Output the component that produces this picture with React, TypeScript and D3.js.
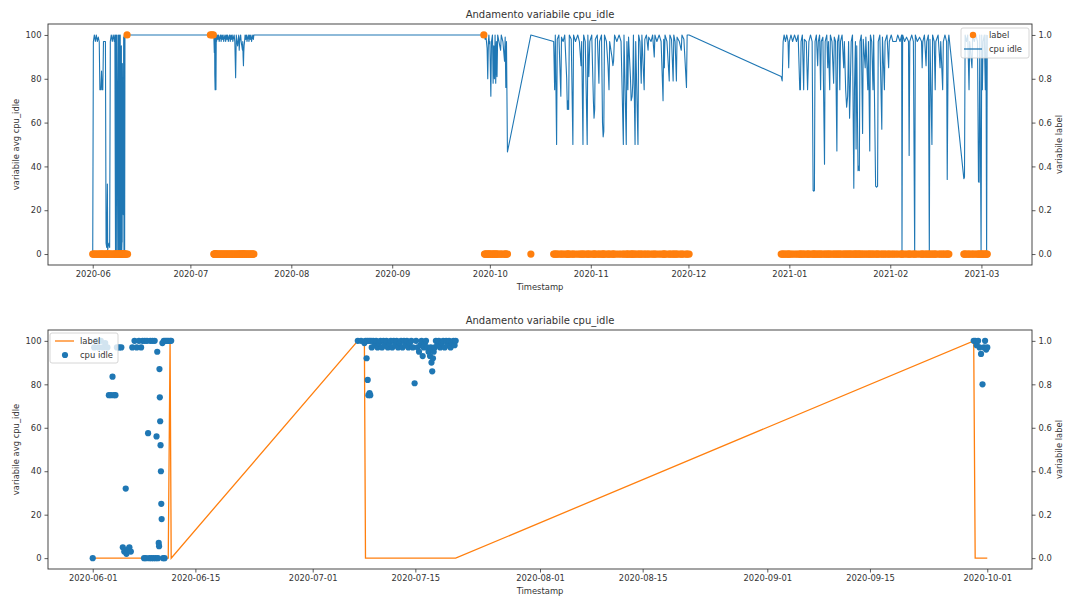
import { useEffect, useRef } from "react";
import * as d3 from "d3";

const T0 = Date.UTC(2020, 5, 1);

// cpu_idle samples: [days since 2020-06-01, variabile avg cpu_idle]
const cpuJun: [number, number][] = [
  [0, 0], [0.2, 97], [0.5, 100], [0.8, 97], [1.1, 100], [1.4, 97], [1.7, 99], [2.0, 97],
  [2.2, 75], [2.5, 75], [2.7, 83.5], [2.9, 75], [3.1, 75], [3.3, 97], [3.6, 97], [3.9, 97],
  [4.1, 5], [4.3, 3], [4.5, 32], [4.6, 2], [4.8, 4], [5.0, 5], [5.2, 3], [5.4, 97],
  [5.7, 100], [6.0, 97], [6.3, 100], [6.6, 97], [6.8, 100], [7.0, 0], [7.1, 100], [7.25, 0],
  [7.4, 100], [7.55, 57.5], [7.7, 0], [7.85, 100], [8.0, 0], [8.15, 100], [8.3, 0], [8.45, 100],
  [8.6, 0], [8.7, 56], [8.8, 95], [8.9, 0], [9.0, 7], [9.05, 5.5], [9.1, 87], [9.15, 74],
  [9.2, 63], [9.25, 52], [9.3, 40], [9.35, 25], [9.4, 18], [9.5, 99], [9.6, 0], [9.7, 100],
  [9.8, 0], [9.9, 100], [10.1, 100], [10.3, 100], [10.55, 100], [10.7, 100],
];

const cpuJul: [number, number][] = [
  [36.15, 100], [36.6, 100], [37.05, 99], [37.2, 100], [37.35, 92], [37.45, 100], [37.5, 82],
  [37.6, 75], [37.7, 100], [37.75, 76], [37.85, 75], [37.95, 100], [38.05, 97], [38.25, 100],
  [38.45, 98], [38.65, 100], [38.85, 97], [39.05, 99], [39.25, 100], [39.45, 97], [39.65, 100],
  [39.85, 98], [40.05, 100], [40.25, 97], [40.45, 99], [40.65, 100], [40.85, 97], [41.05, 100],
  [41.25, 98], [41.45, 100], [41.65, 97], [41.85, 99], [42.05, 100], [42.25, 97], [42.45, 100],
  [42.65, 98], [42.85, 100], [43.05, 97], [43.25, 99], [43.45, 100], [43.65, 97], [43.9, 80.5],
  [44.1, 100], [44.3, 97], [44.5, 95], [44.7, 98], [44.85, 100], [45.0, 93], [45.15, 97],
  [45.3, 99], [45.45, 100], [45.6, 97], [45.8, 95], [46.0, 93], [46.1, 97], [46.2, 90],
  [46.3, 86], [46.4, 92], [46.5, 95], [46.65, 97], [46.8, 100], [47.0, 98], [47.2, 100],
  [47.4, 97], [47.6, 99], [47.8, 100], [48.0, 97], [48.2, 100], [48.4, 98], [48.6, 100],
  [48.8, 97], [49.0, 99], [49.2, 100], [49.35, 98], [49.5, 100],
];

const cpuSep: [number, number][] = [
  [120.15, 100], [120.35, 100], [120.55, 98], [120.75, 100], [120.95, 97], [121.15, 94],
  [121.35, 80], [121.55, 97], [121.7, 100], [121.85, 96], [122.0, 97], [122.3, 72],
  [122.5, 97], [122.8, 100], [123.0, 78], [123.2, 95], [123.4, 80], [123.6, 100], [123.8, 78],
  [124.0, 97], [124.2, 81], [124.4, 100], [124.8, 97], [125.3, 93], [125.5, 100], [126.0, 97],
  [126.5, 88], [126.7, 99], [126.9, 76], [127.1, 97], [127.4, 46.6], [134.6, 100],
];

const cpuNov: [number, number][] = [
  [141.6, 97], [141.9, 75], [142.1, 100], [142.5, 50], [142.7, 98], [143.2, 100], [143.8, 72],
  [144.0, 99], [144.5, 97], [145.0, 100], [145.6, 80], [145.8, 66], [146.0, 70], [146.2, 66],
  [146.4, 100], [147.0, 98], [147.5, 50], [147.7, 100], [148.3, 97], [149.0, 100], [149.5, 97],
  [150.0, 86], [150.2, 97], [150.6, 50], [150.8, 100], [151.3, 97], [151.9, 50], [152.1, 100],
  [152.4, 81], [152.7, 97], [153.3, 100], [153.8, 70], [154.0, 62], [154.2, 66], [154.4, 98],
  [155.0, 100], [155.5, 78], [155.7, 97], [156.3, 100], [156.6, 60], [156.8, 53.5], [157.0, 56],
  [157.2, 100], [157.8, 97], [158.3, 86], [158.6, 75], [158.8, 97], [159.5, 90], [159.8, 86],
  [160.0, 88], [160.3, 100], [161.0, 97], [161.7, 100], [162.3, 97], [163.0, 50], [163.2, 100],
  [163.9, 50], [164.1, 97], [164.4, 75], [164.6, 99], [165.2, 80], [165.4, 70], [165.7, 72],
  [165.9, 78], [166.1, 100], [166.6, 50], [166.8, 97], [167.5, 50], [167.7, 100], [168.1, 97],
  [168.5, 78], [168.7, 100], [169.4, 75], [169.6, 98], [170.1, 100], [170.6, 93], [170.8, 99],
  [171.5, 97], [172.0, 100], [172.5, 90], [172.7, 100], [173.3, 97], [174.0, 100], [174.6, 97],
  [175.2, 70], [175.4, 98], [175.6, 85], [175.8, 100], [176.4, 97], [177.1, 79], [177.3, 100],
  [177.8, 98], [178.3, 79], [178.5, 100], [178.9, 97], [179.3, 79], [179.5, 99], [180.2, 97],
  [180.8, 93], [181.0, 100], [181.6, 98], [182.4, 76], [182.6, 100], [183.2, 100],
];

const cpuJan: [number, number][] = [
  [211.5, 81], [211.8, 79], [212.1, 97], [212.4, 100], [212.8, 97], [213.2, 100], [213.6, 97],
  [213.8, 85], [214.0, 97], [214.5, 100], [215.0, 97], [215.6, 100], [216.2, 97], [216.7, 100],
  [217.2, 75], [217.4, 75], [217.6, 97], [218.0, 100], [218.4, 75], [218.6, 98], [219.2, 97],
  [219.6, 75], [219.8, 85], [220.0, 97], [220.5, 100], [221.0, 97], [221.3, 29], [221.5, 28.7],
  [221.7, 29], [221.9, 97], [222.3, 100], [222.7, 86], [222.9, 97], [223.3, 100], [223.6, 75],
  [223.8, 97], [224.3, 99], [224.8, 41], [225.0, 97], [225.5, 100], [225.8, 85], [226.0, 97],
  [226.4, 75], [226.6, 100], [227.1, 97], [227.6, 78], [227.8, 99], [228.2, 97], [228.6, 47],
  [228.8, 97], [229.2, 100], [229.5, 75], [229.7, 97], [230.2, 100], [230.7, 85], [230.9, 97],
  [231.3, 75], [231.6, 67], [231.9, 72], [232.2, 97], [232.5, 62], [232.7, 75], [233.0, 97],
  [233.4, 100], [233.8, 30], [234.0, 75], [234.3, 97], [234.5, 48], [234.7, 95], [235.1, 38],
  [235.3, 40], [235.5, 38], [235.7, 97], [236.1, 100], [236.5, 55], [236.7, 98], [237.3, 85],
  [237.5, 99], [238.1, 75], [238.3, 97], [238.7, 47], [238.9, 100], [239.3, 97], [239.7, 75],
  [239.9, 100], [240.5, 31], [240.8, 30.5], [241.1, 31], [241.3, 97], [241.8, 100], [242.4, 57],
  [242.6, 99], [243.2, 75], [243.4, 97], [244.0, 100], [244.5, 85], [244.7, 97], [245.3, 100],
  [245.8, 97], [246.2, 97], [246.8, 97], [247.3, 100], [248.0, 97],
];

const cpuFeb: [number, number][] = [
  [248.5, 100], [248.6, 0], [248.8, 100], [249.4, 97], [250.0, 99], [250.6, 97], [250.8, 45],
  [251.0, 97], [251.6, 100], [252.1, 97], [252.5, 0], [252.7, 100], [253.3, 97], [254.0, 99],
  [254.6, 97], [254.8, 85], [255.0, 97], [255.5, 100], [256.0, 86], [256.2, 97], [256.7, 100],
  [257.0, 0], [257.2, 98], [257.8, 50], [258.0, 100], [258.5, 97], [258.8, 75], [259.0, 97],
  [259.7, 100], [260.3, 85], [260.5, 97], [261.1, 75], [261.3, 97], [261.8, 100], [262.3, 97],
  [262.5, 34], [262.8, 97], [263.0, 100], [267.6, 34.4], [267.8, 35], [268.0, 100],
  [268.4, 97], [268.8, 100], [269.2, 75], [269.4, 97], [270.1, 85], [270.3, 100], [270.8, 97],
  [271.3, 100], [271.8, 97], [272.1, 33], [272.3, 32.8], [272.5, 100], [272.9, 0], [273.1, 100],
  [273.3, 75], [273.5, 97], [273.9, 100], [274.2, 75], [274.4, 100], [274.6, 0], [274.8, 100],
];

// days (since 2020-06-01) whose label is 1; every other sample has label 0
const labelOneDays = [10.55, 36.15, 36.6, 37.05, 120.15];

// the lower panel only keeps samples up to 2020-10-01
const lowerEndDay = 122;

const upperTicks = ["2020-06", "2020-07", "2020-08", "2020-09", "2020-10", "2020-11", "2020-12", "2021-01", "2021-02", "2021-03"];
const lowerTicks = ["2020-06-01", "2020-06-15", "2020-07-01", "2020-07-15", "2020-08-01", "2020-08-15", "2020-09-01", "2020-09-15", "2020-10-01"];
const leftTicks = [0, 20, 40, 60, 80, 100];
const rightTicks = [0, 0.2, 0.4, 0.6, 0.8, 1.0];

const BLUE = "#1f77b4";
const ORANGE = "#ff7f0e";
const INK = "#333";
const FONT = "DejaVu Sans, sans-serif";

interface Sample {
  date: Date;
  cpu: number;
  label: number;
}

const samples: Sample[] = [...cpuJun, ...cpuJul, ...cpuSep, ...cpuNov, ...cpuJan, ...cpuFeb].map(
  ([d, v]) => ({
    date: new Date(T0 + d * 864e5),
    cpu: v,
    label: labelOneDays.includes(d) ? 1 : 0,
  })
);

const W = 1067;
const H = 597;

function drawPanel(
  svg: d3.Selection<SVGSVGElement, unknown, null, undefined>,
  data: Sample[],
  top: number,
  bottom: number,
  ticks: Date[],
  fmt: (d: Date) => string,
  mode: "upper" | "lower"
) {
  const left = 48;
  const right = 1032;
  const [d0, d1] = d3.extent(data, (d) => d.date) as [Date, Date];
  const pad = (+d1 - +d0) * 0.05;
  const x = d3.scaleUtc().domain([new Date(+d0 - pad), new Date(+d1 + pad)]).range([left, right]);
  const yL = d3.scaleLinear().domain([-5, 105]).range([bottom, top]);
  const yR = d3.scaleLinear().domain([-0.05, 1.05]).range([bottom, top]);

  const g = svg.append("g");

  const cpuLine = d3
    .line<Sample>()
    .x((d) => x(d.date))
    .y((d) => yL(d.cpu));
  const labelLine = d3
    .line<Sample>()
    .x((d) => x(d.date))
    .y((d) => yR(d.label));

  if (mode === "upper") {
    g.append("path")
      .attr("d", cpuLine(data))
      .attr("fill", "none")
      .attr("stroke", BLUE)
      .attr("stroke-width", 1.1)
      .attr("stroke-linejoin", "round");
    g.selectAll(".lab")
      .data(data)
      .enter()
      .append("circle")
      .attr("cx", (d) => x(d.date))
      .attr("cy", (d) => yR(d.label))
      .attr("r", 3.6)
      .attr("fill", ORANGE);
  } else {
    g.append("path")
      .attr("d", labelLine(data))
      .attr("fill", "none")
      .attr("stroke", ORANGE)
      .attr("stroke-width", 1.3);
    g.selectAll(".cpu")
      .data(data)
      .enter()
      .append("circle")
      .attr("cx", (d) => x(d.date))
      .attr("cy", (d) => yL(d.cpu))
      .attr("r", 3.1)
      .attr("fill", BLUE);
  }

  // axes
  const styleAxis = (a: d3.Selection<SVGGElement, unknown, null, undefined>) => {
    a.select(".domain").remove();
    a.selectAll(".tick line").attr("stroke", INK).attr("stroke-width", 0.8);
    a.selectAll(".tick text").attr("fill", INK).attr("font-size", 8.4).attr("font-family", FONT);
  };

  g.append("g")
    .attr("transform", `translate(0,${bottom})`)
    .call(d3.axisBottom(x).tickValues(ticks).tickFormat((d) => fmt(d as Date)).tickSize(3.5).tickPadding(3))
    .call(styleAxis);
  g.append("g")
    .attr("transform", `translate(${left},0)`)
    .call(d3.axisLeft(yL).tickValues(leftTicks).tickFormat(d3.format("d")).tickSize(3.5).tickPadding(3))
    .call(styleAxis);
  g.append("g")
    .attr("transform", `translate(${right},0)`)
    .call(d3.axisRight(yR).tickValues(rightTicks).tickFormat(d3.format(".1f")).tickSize(3.5).tickPadding(3))
    .call(styleAxis);

  g.append("rect")
    .attr("x", left)
    .attr("y", top)
    .attr("width", right - left)
    .attr("height", bottom - top)
    .attr("fill", "none")
    .attr("stroke", INK)
    .attr("stroke-width", 0.9);

  // titles
  const text = (tx: number, ty: number, s: string, size: number, rot = 0) =>
    g.append("text")
      .attr("transform", `translate(${tx},${ty}) rotate(${rot})`)
      .attr("text-anchor", "middle")
      .attr("font-family", FONT)
      .attr("font-size", size)
      .attr("fill", INK)
      .text(s);

  const mid = (left + right) / 2;
  text(mid, top - 6, "Andamento variabile cpu_idle", 10);
  text(mid, bottom + 25, "Timestamp", 8.4);
  text(19, (top + bottom) / 2, "variabile avg cpu_idle", 8.4, -90);
  text(1062, (top + bottom) / 2, "variabile label", 8.4, -90);

  // legend
  const lg = g.append("g");
  const legendText = (lx: number, ly: number, s: string) =>
    lg.append("text")
      .attr("x", lx)
      .attr("y", ly)
      .attr("font-family", FONT)
      .attr("font-size", 8.4)
      .attr("fill", INK)
      .attr("dominant-baseline", "central")
      .text(s);

  if (mode === "upper") {
    const bx = 961;
    const by = top + 4;
    lg.append("rect")
      .attr("x", bx).attr("y", by).attr("width", 68).attr("height", 30).attr("rx", 2)
      .attr("fill", "white").attr("fill-opacity", 0.8).attr("stroke", "#ccc").attr("stroke-width", 0.8);
    lg.append("circle").attr("cx", bx + 12).attr("cy", by + 7).attr("r", 3.2).attr("fill", ORANGE);
    legendText(bx + 28, by + 7, "label");
    lg.append("line")
      .attr("x1", bx + 3).attr("x2", bx + 21).attr("y1", by + 21).attr("y2", by + 21)
      .attr("stroke", BLUE).attr("stroke-width", 1.3);
    legendText(bx + 28, by + 21, "cpu idle");
  } else {
    const bx = 50;
    const by = top + 3;
    lg.append("rect")
      .attr("x", bx).attr("y", by).attr("width", 68).attr("height", 30).attr("rx", 2)
      .attr("fill", "white").attr("fill-opacity", 0.8).attr("stroke", "#ccc").attr("stroke-width", 0.8);
    lg.append("line")
      .attr("x1", bx + 5).attr("x2", bx + 24).attr("y1", by + 8).attr("y2", by + 8)
      .attr("stroke", ORANGE).attr("stroke-width", 1.3);
    legendText(bx + 30, by + 8, "label");
    lg.append("circle").attr("cx", bx + 15).attr("cy", by + 22).attr("r", 3.1).attr("fill", BLUE);
    legendText(bx + 30, by + 22, "cpu idle");
  }
}

export default function App() {
  const ref = useRef<SVGSVGElement>(null);

  useEffect(() => {
    if (!ref.current) return;
    const svg = d3.select(ref.current);
    svg.selectAll("*").remove();

    const monthFmt = d3.utcFormat("%Y-%m");
    const dayFmt = d3.utcFormat("%Y-%m-%d");
    const parseMonth = d3.utcParse("%Y-%m");
    const parseDay = d3.utcParse("%Y-%m-%d");

    drawPanel(svg, samples, 24, 265, upperTicks.map((t) => parseMonth(t) as Date), monthFmt, "upper");

    const lowerEnd = T0 + lowerEndDay * 864e5;
    const lower = samples.filter((d) => +d.date <= lowerEnd);
    drawPanel(svg, lower, 330, 569, lowerTicks.map((t) => parseDay(t) as Date), dayFmt, "lower");
  }, []);

  return (
    <svg
      ref={ref}
      width={W}
      height={H}
      style={{ position: "absolute", left: 0, top: 0, background: "white" }}
    />
  );
}
